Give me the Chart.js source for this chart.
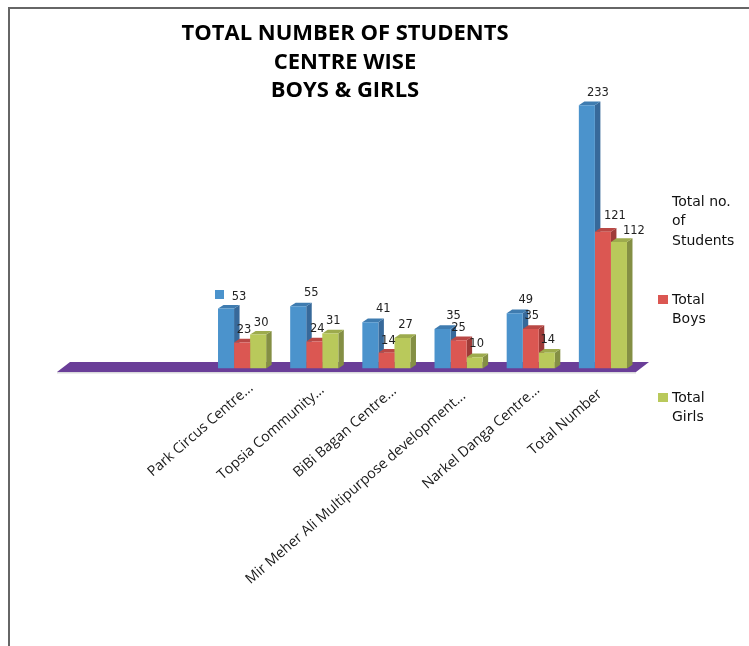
<!DOCTYPE html>
<html><head><meta charset="utf-8">
<style>
html,body{margin:0;padding:0;background:#fff;width:749px;height:646px;overflow:hidden}
#wrap{position:absolute;left:0;top:0;width:749px;height:646px}
#frame{position:absolute;left:8px;top:7px;width:745px;height:645px;border-left:2px solid #666;border-top:2px solid #666;}
canvas{position:absolute;left:0;top:0}
</style>
<script src="https://cdn.jsdelivr.net/npm/chart.js@4"></script>
</head><body>
<div id="wrap"><div id="frame"></div><canvas id="c" width="749" height="646"></canvas></div>
<script>
const categories = ["Park Circus Centre...","Topsia Community...","BiBi Bagan Centre...","Mir Meher Ali Multipurpose development...","Narkel Danga Centre...","Total Number"];
const totalStudents = [53,55,41,35,49,233];
const totalBoys = [23,24,14,25,35,121];
const totalGirls = [30,31,27,10,14,112];
const seriesNames = ["Total no. of Students","Total Boys","Total Girls"];
const titleLines = ["TOTAL NUMBER OF STUDENTS","CENTRE WISE","BOYS & GIRLS"];

const FRONT = ["#4b93cc","#db5752","#b9c95b"];
const SIDE  = ["#37699a","#9e3b38","#848f44"];
const TOP   = ["#3f7cb0","#b94845","#9dab4d"];
const FLOOR = "#6a3e98";
const DEPTH_X = 5.5, DEPTH_Y = 3.7;
const BASE_Y = 368.5;

// label offsets from the top centre of each bar
const labelOffsets = [
  [[13,-12],[13,-13],[13,-13],[11,-13],[11,-13],[11,-12]],
  [[2,-12],[3,-12],[2,-12],[0,-12],[1,-13],[12,-16]],
  [[3,-12],[3,-12],[3,-13],[2,-13],[1,-13],[15,-11]]
];
const tickShift = [[9,-3],[8,-1],[8,0],[5,5],[7,-1],[-3,3]];
const legendSpec = [
  {marker:[215,290,9,9], text:["Total no.","of","Students"], x:672, y:202},
  {marker:[658,295,10,9], text:["Total","Boys"], x:672, y:300},
  {marker:[658,393,10,9], text:["Total","Girls"], x:672, y:398}
];

const decor = {
  id:"decor",
  beforeDraw(chart){
    const xs = chart.scales.x;
    xs.getLabelItems(chart.chartArea).forEach((it,i)=>{
      const t = it.options.translation, s = tickShift[i];
      it.options.translation = [t[0]+s[0], t[1]+s[1]];
    });
  },
  beforeDatasetsDraw(chart){
    const g = chart.ctx, a = chart.chartArea;
    g.save();
    // floor
    const L = a.left - 149, R = a.right - 3;
    g.fillStyle = "#d9d9dc";
    g.fillRect(L, 372, R-L, 1.5);
    g.fillStyle = FLOOR;
    g.beginPath();
    g.moveTo(L,372); g.lineTo(R,372); g.lineTo(R+13,362); g.lineTo(L+13,362);
    g.closePath(); g.fill();
    // bar depth
    chart.data.datasets.forEach((ds,i)=>{
      chart.getDatasetMeta(i).data.forEach(b=>{
        const l=b.x-b.width/2, r=b.x+b.width/2, t=b.y, m=b.base;
        g.fillStyle=SIDE[i];
        g.beginPath();
        g.moveTo(r,t); g.lineTo(r+DEPTH_X,t-DEPTH_Y); g.lineTo(r+DEPTH_X,m-DEPTH_Y); g.lineTo(r,m);
        g.closePath(); g.fill();
        g.fillStyle=TOP[i];
        g.beginPath();
        g.moveTo(l,t); g.lineTo(l+DEPTH_X,t-DEPTH_Y); g.lineTo(r+DEPTH_X,t-DEPTH_Y); g.lineTo(r,t);
        g.closePath(); g.fill();
      });
    });
    g.restore();
  },
  afterDatasetsDraw(chart){
    const g = chart.ctx;
    g.save();
    g.textBaseline="middle"; g.textAlign="center";
    g.fillStyle="#222";
    g.font='11.5px "DejaVu Sans"';
    chart.data.datasets.forEach((ds,i)=>{
      chart.getDatasetMeta(i).data.forEach((b,j)=>{
        const o=labelOffsets[i][j];
        g.fillText(String(ds.data[j]), b.x+o[0], b.y+o[1]);
      });
    });
    // title
    g.fillStyle="#000";
    g.font='bold 22px "Open Sans"';
    [34,63,91].forEach((y,i)=>g.fillText(titleLines[i],345,y));
    // legend
    g.textAlign="left";
    g.font='14px "DejaVu Sans"';
    legendSpec.forEach((s,i)=>{
      g.fillStyle=FRONT[i];
      g.fillRect(...s.marker);
      g.fillStyle="#111";
      s.text.forEach((t,k)=>g.fillText(t,s.x,s.y+k*19.5));
    });
    g.restore();
  }
};

new Chart(document.getElementById("c"),{
  type:"bar",
  data:{labels:categories,datasets:[
    {label:seriesNames[0],data:totalStudents,backgroundColor:FRONT[0]},
    {label:seriesNames[1],data:totalBoys,backgroundColor:FRONT[1]},
    {label:seriesNames[2],data:totalGirls,backgroundColor:FRONT[2]}
  ]},
  options:{
    responsive:false,animation:false,devicePixelRatio:1,
    layout:{padding:{left:206,right:110,top:86,bottom:0}},
    plugins:{legend:{display:false},tooltip:{enabled:false},title:{display:false}},
    datasets:{bar:{categoryPercentage:0.667,barPercentage:1}},
    scales:{
      x:{
        grid:{display:false,drawTicks:false},border:{display:false},
        ticks:{autoSkip:false,maxRotation:41,minRotation:41,padding:14,color:"#1a1a1a",font:{family:'"Open Sans"',size:14.3}},
        afterFit(s){s.height=646-BASE_Y;}
      },
      y:{display:false,min:0,max:250}
    }
  },
  plugins:[decor]
});
</script>
</body></html>
